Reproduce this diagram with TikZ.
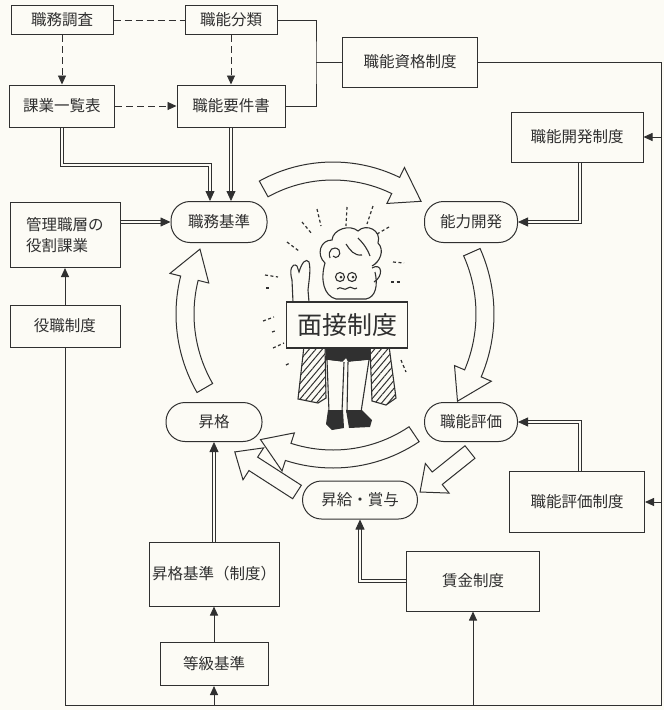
\documentclass[tikz,border=0pt]{standalone}
\usepackage{fontspec}
\setmainfont{Noto Sans CJK JP}
\usetikzlibrary{arrows.meta, patterns.meta}

\definecolor{ink}{RGB}{48,48,48}
\definecolor{paper}{RGB}{252,251,245}

% hollow arrow bent round the centre: start angle, end angle, radius
\newcommand{\roundarrow}[3]{%
  \pgfmathsetmacro{\hb}{#2-12}%
  \pgfmathsetmacro{\ro}{#3+9}\pgfmathsetmacro{\ri}{#3-9}%
  \pgfmathsetmacro{\hro}{#3+20}\pgfmathsetmacro{\hri}{#3-20}%
  \draw[hollow] plot[domain=#1:\hb, samples=24] (\x:\ro) -- (\hb:\hro) -- (#2:#3)
    -- (\hb:\hri) -- plot[domain=\hb:#1, samples=24] (\x:\ri) -- cycle;
}
% straight hollow arrow: tail, direction, length
\newcommand{\fatarrow}[3]{%
  \begin{scope}[shift={#1}, rotate=#2]
    \draw[hollow] (0,-8) -- (#3-22,-8) -- (#3-22,-19) -- (#3,0) -- (#3-22,19)
      -- (#3-22,8) -- (0,8) -- cycle;
  \end{scope}
}

\begin{document}
\begin{tikzpicture}[x=1pt, y=-1pt, color=ink,
  box/.style={draw, fill=paper, line width=1pt, inner sep=0pt,
    font=\fontsize{15.5}{21}\selectfont},
  pill/.style={box, rounded corners=19pt},
  link/.style={line width=0.9pt},
  tip/.style={-{Triangle[length=9pt,width=8pt]}},
  dsh/.style={line width=0.9pt, dash pattern=on 7pt off 4pt},
  dbl/.style={double=paper, double distance=2.2pt, line width=0.8pt,
    -{Triangle[length=10pt,width=9pt]}},
  hollow/.style={draw, fill=paper, line width=1pt, line join=miter},
  buzz/.style={line width=1.2pt, dash pattern=on 3pt off 2.5pt}]

  \fill[paper] (0,0) rectangle (664,710);
  \useasboundingbox (0,0) rectangle (664,710);

  % boxes
  \node[box, minimum width=102pt, minimum height=29pt] (chosa) at (62,20) {職務調査};
  \node[box, minimum width=92pt, minimum height=29pt] (bunrui) at (231,20) {職能分類};
  \node[box, minimum width=105pt, minimum height=42pt] (ichiran) at (62,106) {課業一覧表};
  \node[box, minimum width=108pt, minimum height=42pt] (yoken) at (231,106) {職能要件書};
  \node[box, minimum width=135pt, minimum height=50pt] (shikaku) at (410,62) {職能資格制度};
  \node[box, align=left, minimum width=110pt, minimum height=65pt] (kanri) at (65,235) {管理職層の\\役割課業};
  \node[box, minimum width=110pt, minimum height=42pt] (yaku) at (65,326) {役職制度};
  \node[box, minimum width=132pt, minimum height=50pt] (kseido) at (577,137) {職能開発制度};
  \node[box, minimum width=135pt, minimum height=61pt] (hseido) at (577,502) {職能評価制度};
  \node[box, minimum width=133pt, minimum height=60pt] (chingin) at (473,581) {賃金制度};
  \node[box, minimum width=130pt, minimum height=64pt] (skijun) at (214,574) {昇格基準（制度）};
  \node[box, minimum width=108pt, minimum height=43pt] (tokyu) at (214,664) {等級基準};

  % the cycle
  \node[pill, minimum width=96pt, minimum height=41pt] (kijun) at (219,222) {職務基準};
  \node[pill, minimum width=93pt, minimum height=41pt] (kaihatsu) at (471,222) {能力開発};
  \node[pill, minimum width=93pt, minimum height=39pt] (hyoka) at (471,422) {職能評価};
  \node[pill, minimum width=96pt, minimum height=39pt] (shokaku) at (214,422) {昇格};
  \node[pill, minimum width=115pt, minimum height=38pt] (shokyu) at (360,500) {昇給・賞与};

  \begin{scope}[shift={(333,314)}]
    \roundarrow{-119}{-52}{143}
    \roundarrow{-24}{35}{152}
    \roundarrow{56}{120}{145}
    \roundarrow{150}{206}{148}
  \end{scope}
  \fatarrow{(470,452)}{218.7}{64}
  \fatarrow{(297,492)}{147.2}{74}

  % connectors
  \coordinate (jn) at (316,62);
  \coordinate (ne) at (661,62);
  \coordinate (se) at (661,705);
  \coordinate (kb) at (210,165);
  \draw[dsh] (chosa) -- (bunrui);
  \draw[dsh, tip] (chosa) -- (ichiran);
  \draw[dsh, tip] (bunrui) -- (yoken);
  \draw[dsh, tip] (ichiran) -- (yoken);
  \draw[link] (bunrui.east) -| (jn) |- (yoken.east);
  \draw[link] (jn) -- (shikaku.west);
  \draw[link] (shikaku.east) -| (se) -| (yaku.south);
  \draw[link, tip] (ne |- kseido) -- (kseido.east);
  \draw[link, tip] (se |- hseido) -- (hseido.east);
  \draw[link, tip] (tokyu |- se) -- (tokyu.south);
  \draw[link, tip] (chingin |- se) -- (chingin.south);
  \draw[link, tip] (tokyu) -- (skijun);
  \draw[link, tip] (yaku) -- (kanri);
  \draw[dbl] (skijun) -- (shokaku);
  \draw[dbl] (chingin.west) -| (shokyu.south);
  \draw[dbl] ([xshift=3pt]kseido.south) |- (kaihatsu.east);
  \draw[dbl] ([xshift=3pt]hseido.north) |- (hyoka.east);
  \draw[dbl] (kanri.east |- kijun) -- (kijun.west);
  \draw[dbl] (ichiran.south) |- (kb) -- (kb |- kijun.north);
  \draw[dbl] (yoken.south) -- (yoken.south |- kijun.north);

  % the man behind the sign
  \begin{scope}[line width=1.1pt]
    \draw[pattern={Lines[angle=50,distance=5pt,line width=1pt]}, pattern color=ink]
      (304,346) -- (325,346) -- (326,398) -- (318,403) -- (298,399) -- cycle;
    \draw[pattern={Lines[angle=50,distance=5pt,line width=1pt]}, pattern color=ink]
      (370,346) -- (389,346) -- (396,398) -- (386,405) -- (372,401) -- cycle;
    \fill (325,346) -- (371,346) -- (370,360) -- (348,362) -- (346,358) -- (342,362) -- (326,360) -- cycle;
    \draw[fill=paper] (327,360) -- (329,412) -- (342,412) -- (344,362);
    \draw[fill=paper] (348,362) -- (347,412) -- (361,412) -- (369,360);
    \fill (328,410) -- (343,410) -- (344,428) -- (332,430) -- (326,424) -- cycle;
    \fill (346,410) -- (362,410) -- (372,420) -- (370,427) -- (349,428) -- cycle;
    % head
    \draw (325,263) .. controls (320,280) and (324,296) .. (336,299) -- (366,299)
      .. controls (376,297) and (378,285) .. (375,272);
    \draw (372,268) .. controls (382,262) and (384,276) .. (374,282);
    \draw (325,263) .. controls (316,255) and (320,240) .. (332,240)
      .. controls (333,229) and (350,224) .. (358,231)
      .. controls (366,223) and (382,230) .. (378,243)
      .. controls (385,250) and (380,262) .. (372,266);
    \draw (330,258) .. controls (327,250) and (334,245) .. (339,250)
      .. controls (342,255) and (336,260) .. (333,256);
    \draw (346,244) .. controls (350,250) and (354,256) .. (362,255);
    \draw (358,238) .. controls (364,244) and (368,250) .. (370,256);
    \draw (340,277) circle[radius=4.5pt];
    \draw (352,277) circle[radius=4.5pt];
    \fill (341,277) circle[radius=1.5pt];
    \fill (353,277) circle[radius=1.5pt];
    \draw (337,289) .. controls (341,285) and (344,292) .. (348,288)
      .. controls (351,285) and (354,291) .. (357,288);
    % raised hand
    \draw (293,302) -- (292,280) .. controls (289,270) and (292,262) .. (297,266)
      -- (299,272) .. controls (302,262) and (306,258) .. (309,262)
      .. controls (311,270) and (309,280) .. (308,290) -- (309,302);
  \end{scope}
  \foreach \xa/\ya/\xb/\yb in {302/222/312/234, 317/209/321/226, 347/207/346/226,
      373/206/367/224, 287/242/299/251, 377/234/389/227, 393/262/404/263,
      391/282/401/282, 265/275/278/277, 266/288/271/288, 263/321/274/317,
      272/332/275/331, 273/348/284/343, 286/365/290/363, 401/360/406/372}
    \draw[buzz] (\xa,\ya) -- (\xb,\yb);

  \node[box, font=\fontsize{25}{30}\selectfont, line width=1.2pt,
    minimum width=121pt, minimum height=46pt] (mensetsu) at (347,325) {面接制度};
\end{tikzpicture}
\end{document}
